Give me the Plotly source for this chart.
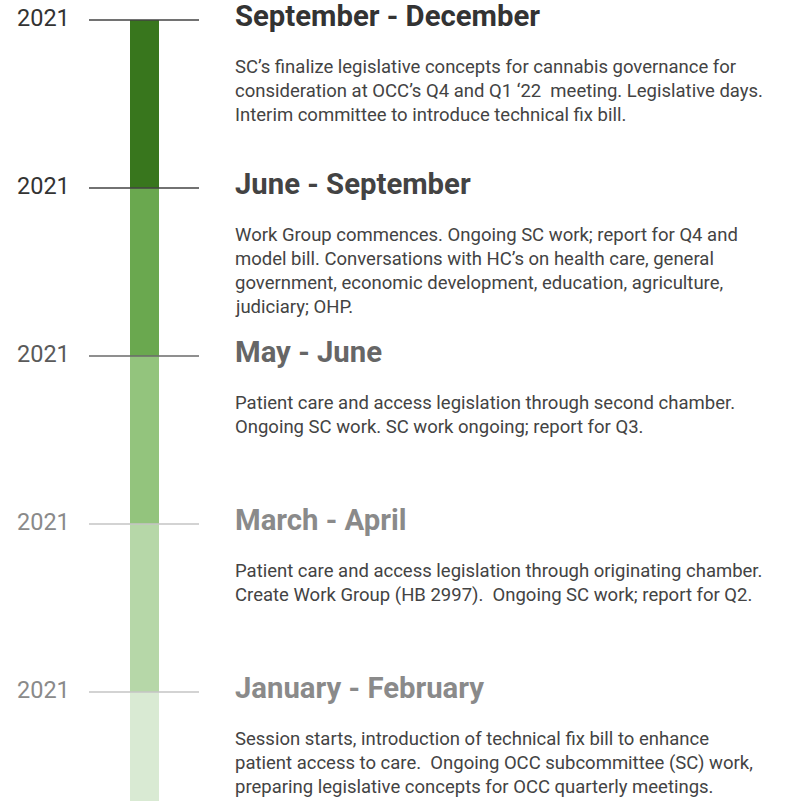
import plotly.graph_objects as go

# ---- data ----
periods = ["January - February", "March - April", "May - June", "June - September", "September - December"]
years = ["2021", "2021", "2021", "2021", "2021"]
slot_start = [0, 1, 2, 3, 4]
slot_len = [1, 1, 1, 1, 1]
descriptions = [
    ["Session starts, introduction of technical fix bill to enhance",
     "patient access to care.  Ongoing OCC subcommittee (SC) work,",
     "preparing legislative concepts for OCC quarterly meetings."],
    ["Patient care and access legislation through originating chamber.",
     "Create Work Group (HB 2997).  Ongoing SC work; report for Q2."],
    ["Patient care and access legislation through second chamber.",
     "Ongoing SC work. SC work ongoing; report for Q3."],
    ["Work Group commences. Ongoing SC work; report for Q4 and",
     "model bill. Conversations with HC\u2019s on health care, general",
     "government, economic development, education, agriculture,",
     "judiciary; OHP."],
    ["SC\u2019s finalize legislative concepts for cannabis governance for",
     "consideration at OCC\u2019s Q4 and Q1 \u201822  meeting. Legislative days.",
     "Interim committee to introduce technical fix bill."],
]
bar_colors = ["#d9ead3", "#b6d7a8", "#93c47d", "#6aa84f", "#38761d"]
title_colors = ["#8a8a8a", "#8a8a8a", "#666666", "#434343", "#333333"]
year_colors = ["#8a8a8a", "#8a8a8a", "#5a5a5a", "#333333", "#333333"]
rule_colors = ["#c4c4c4", "#c4c4c4", "#6a6a6a", "#434343", "#434343"]

W, H = 785, 801
px_per_slot = 168
top_px = 20
y_top = slot_start[-1] + slot_len[-1] + top_px / px_per_slot
y_bot = y_top - H / px_per_slot

fig = go.Figure()
fig.add_trace(go.Bar(
    x=[144.5] * len(periods), y=slot_len, base=slot_start,
    width=29, marker=dict(color=bar_colors, line=dict(width=0)),
    hoverinfo="skip", showlegend=False,
))

shapes = []
annotations = []
FONT = "Roboto"
for i, name in enumerate(periods):
    yb = slot_start[i] + slot_len[i]
    shapes.append(dict(type="line", xref="x", yref="y", x0=89, x1=199, y0=yb, y1=yb,
                       line=dict(color=rule_colors[i], width=1.6), layer="above"))
    annotations.append(dict(x=71, y=yb, xref="x", yref="y", text=years[i], showarrow=False,
                            xanchor="right", yanchor="middle", yshift=2, borderpad=0,
                            font=dict(family=FONT, size=23.5, color=year_colors[i])))
    annotations.append(dict(x=234, y=yb, xref="x", yref="y", text="<b>" + name + "</b>",
                            showarrow=False, xanchor="left", yanchor="middle", yshift=4,
                            borderpad=0,
                            font=dict(family=FONT, size=29.3, color=title_colors[i])))
    for j, line in enumerate(descriptions[i]):
        annotations.append(dict(x=234, y=yb, xref="x", yref="y", text=line, showarrow=False,
                                xanchor="left", yanchor="middle", yshift=-(47 + 24 * j),
                                borderpad=0,
                                font=dict(family=FONT, size=18.5, color="#434343")))

fig.update_layout(
    width=W, height=H, margin=dict(l=0, r=0, t=0, b=0),
    paper_bgcolor="white", plot_bgcolor="white",
    xaxis=dict(range=[0, W], visible=False, fixedrange=True),
    yaxis=dict(range=[y_bot, y_top], visible=False, fixedrange=True),
    shapes=shapes, annotations=annotations, bargap=0,
)

fig.write_html("out.html", config={"displayModeBar": False},
               post_script="document.body.style.margin='0';document.body.style.overflow='hidden';")
